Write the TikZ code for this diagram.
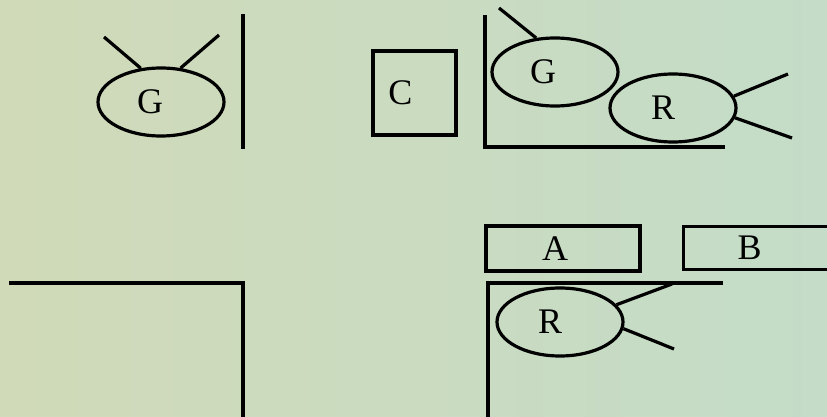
\documentclass[tikz,border=0pt]{standalone}
\usepackage{fontspec}
\setmainfont{Liberation Serif}
\usetikzlibrary{shapes.geometric, positioning}
\definecolor{paperbgl}{RGB}{208, 218, 184}
\definecolor{paperbgr}{RGB}{196, 220, 200}
\definecolor{inkblack}{RGB}{0, 0, 0}
\tikzset{
  wall/.style={draw=inkblack, line width=3.2pt, line cap=rect},
  feeler/.style={draw=inkblack, line width=3.2pt},
  tag/.style={font=\fontsize{36}{40}\selectfont, inner sep=0pt}
}

\begin{document}
\begin{tikzpicture}[x=1pt, y=-1pt,
    blob/.style={ellipse, draw=inkblack, line width=3.2pt, inner sep=0pt, minimum width=126pt, minimum height=68pt},
    boxnode/.style={rectangle, draw=inkblack, line width=3.2pt, inner sep=0pt}]

    % paper
    \shade[left color=paperbgl, right color=paperbgr] (0,0) rectangle (827,417);
    \useasboundingbox (0,0) rectangle (827,417);

    % top left: G and its wall
    \node[blob, label={[tag, xshift=-11pt]center:G}] (g1) at (161,102) {};
    \coordinate (g1l) at (104,37);
    \coordinate (g1r) at (219,35);
    \draw[feeler] (g1.121) -- (g1l);
    \draw[feeler] (g1.60) -- (g1r);
    \draw[wall] (243,16) -- (243,147);

    % box C
    \node[boxnode, minimum width=83pt, minimum height=84pt, label={[tag, xshift=-14pt]center:C}] (c) at (414.5,93) {};

    % top right corner with G and R
    \draw[wall] (485,17) -- (485,147) -- (723,147);
    \node[blob, label={[tag, xshift=-12pt]center:G}] (g2) at (555,72) {};
    \coordinate (g2t) at (499,8);
    \draw[feeler] (g2.119) -- (g2t);
    \node[blob, label={[tag, xshift=-10pt]center:R}] (r1) at (673,108) {};
    \coordinate (r1u) at (788,74);
    \coordinate (r1d) at (792,138);
    \draw[feeler] (r1.11) -- (r1u);
    \draw[feeler] (r1.-9) -- (r1d);

    % boxes A and B
    \node[boxnode, minimum width=154pt, minimum height=45pt, label={[tag, xshift=-8pt]center:A}] (a) at (563,248.5) {};
    \node[boxnode, minimum width=170pt, minimum height=43pt, anchor=west, label={[tag, xshift=-19pt]center:B}] (b) at (682,248) {};

    % bottom right corner with R
    \draw[wall] (721,283) -- (488,283) -- (488,420);
    \node[blob, label={[tag, xshift=-10pt]center:R}] (r2) at (560,322) {};
    \coordinate (r2u) at (672,284);
    \coordinate (r2d) at (674,349);
    \draw[feeler] (r2.17) -- (r2u);
    \draw[feeler] (r2.-6) -- (r2d);

    % bottom left corner
    \draw[wall] (11,283) -- (243,283) -- (243,420);

\end{tikzpicture}
\end{document}
